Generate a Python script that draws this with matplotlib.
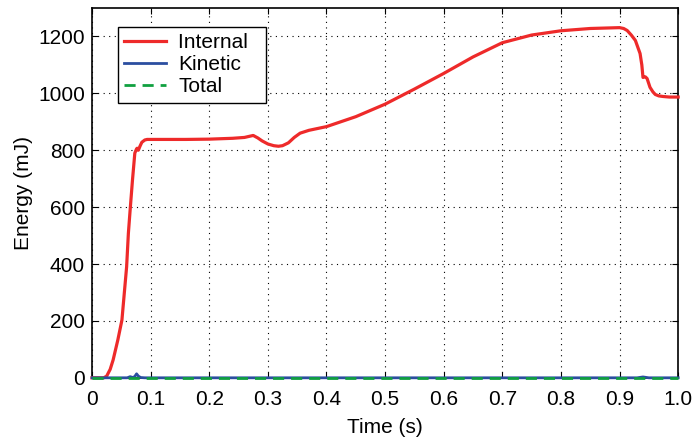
import numpy as np
import matplotlib.pyplot as plt

plt.rcParams['font.family'] = ['Liberation Sans', 'DejaVu Sans']

# Internal energy (mJ)
t_int = [0.0, 0.02, 0.025, 0.031, 0.036, 0.044, 0.051, 0.056, 0.059, 0.062, 0.065, 0.069,
         0.073, 0.076, 0.077, 0.079, 0.082, 0.085, 0.09, 0.094, 0.12, 0.16, 0.2, 0.24,
         0.26, 0.275, 0.283, 0.29, 0.3, 0.31, 0.318, 0.325, 0.335, 0.345, 0.355, 0.37,
         0.4, 0.45, 0.5, 0.55, 0.6, 0.65, 0.7, 0.75, 0.8, 0.85, 0.9, 0.907, 0.913,
         0.92, 0.927, 0.935, 0.938, 0.940, 0.944, 0.947, 0.952, 0.957, 0.961, 0.967,
         0.974, 0.985, 1.0]
e_int = [0, 0, 6, 30, 63, 133, 203, 320, 390, 508, 590, 695,
         790, 805, 807, 800, 815, 828, 836, 838, 838, 838, 839, 842,
         845, 852, 843, 833, 822, 816, 814, 816, 826, 845, 860, 870,
         883, 918, 962, 1015, 1070, 1128, 1178, 1205, 1220, 1228, 1231, 1228, 1221,
         1205, 1186, 1140, 1100, 1056, 1058, 1052, 1021, 1005, 996, 991,
         989, 987, 987]

# Kinetic energy (mJ)
t_kin = [0.0, 0.06, 0.065, 0.07, 0.073, 0.076, 0.079, 0.083, 0.09, 0.93, 0.94, 0.95, 1.0]
e_kin = [0, 0, 4, 1, 5, 14, 6, 1, 0, 0, 3, 0, 0]

# Total energy (mJ)
t_tot = [0.0, 1.0]
e_tot = [0, 0]

fig = plt.figure(figsize=(6.92, 4.45), dpi=100)
ax = fig.add_axes([0.133, 0.151, 0.847, 0.831])

ax.plot(t_int, e_int, color='#ee2a2a', lw=2.3, label='Internal  ', clip_on=False, zorder=3)
ax.plot(t_kin, e_kin, color='#2b4ea0', lw=2, label='Kinetic', clip_on=False, zorder=3)
ax.plot(t_tot, e_tot, color='#10a040', lw=2, ls='--', dashes=(4, 2.5), label='Total',
        clip_on=False, zorder=3)

ax.set_xlim(0, 1.0)
ax.set_ylim(0, 1300)
ax.set_xticks(np.arange(0, 1.01, 0.1))
ax.set_xticklabels(['0'] + ['%.1f' % v for v in np.arange(0.1, 1.01, 0.1)])
ax.set_yticks([0, 200, 400, 600, 800, 1000, 1200])
ax.grid(True, color='black', ls=(0, (1, 4)), lw=0.8)
ax.tick_params(direction='in', top=True, right=True, labelsize=15, length=4)
ax.tick_params(axis='x', pad=9)
ax.tick_params(axis='y', pad=5)
for s in ax.spines.values():
    s.set_linewidth(1.2)

ax.set_xlabel('Time (s)', fontsize=15, labelpad=6)
ax.set_ylabel('Energy (mJ)', fontsize=15, labelpad=4)

leg = ax.legend(loc='upper left', bbox_to_anchor=(0.044, 0.949), fontsize=15,
                fancybox=False, framealpha=1, edgecolor='black',
                handlelength=2.0, handletextpad=0.6, borderpad=0.3,
                labelspacing=0.15, borderaxespad=0)
leg.get_frame().set_linewidth(1.0)
leg.set_zorder(5)

fig.savefig('out.png', dpi=100)
